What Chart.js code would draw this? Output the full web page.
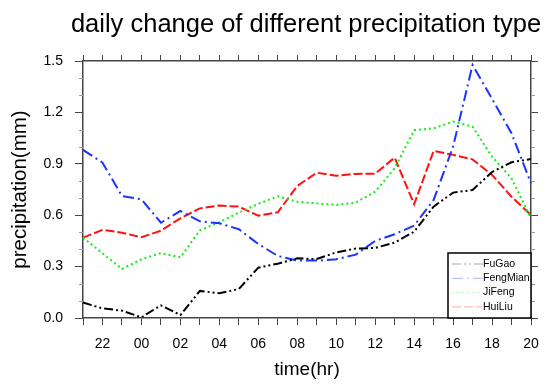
<!DOCTYPE html>
<html>
<head>
<meta charset="utf-8">
<script src="https://cdn.jsdelivr.net/npm/chart.js@4"></script>
<style>
  body { margin: 0; background: #fff; }
  #wrap { width: 550px; height: 391px; position: relative; }
</style>
</head>
<body>
<div id="wrap"><canvas id="graph"></canvas></div>
<script>
// 時刻(横軸)
let hours = ['21','22','23','00','01','02','03','04','05','06','07','08',
             '09','10','11','12','13','14','15','16','17','18','19','20'];

// 各タイプの降水量(mm)
let fuGao = [0.09,0.056,0.043,0.004,0.074,0.017,0.158,0.144,0.169,0.294,0.317,0.348,
             0.344,0.383,0.405,0.409,0.44,0.504,0.65,0.732,0.747,0.852,0.909,0.928];
let fengMian = [0.981,0.907,0.712,0.693,0.556,0.625,0.564,0.553,0.518,0.432,0.362,0.335,
                0.335,0.343,0.37,0.45,0.489,0.539,0.689,1.0,1.477,1.28,1.078,0.786];
let jiFeng = [0.469,0.378,0.286,0.343,0.379,0.354,0.512,0.559,0.615,0.666,0.71,0.679,
              0.669,0.66,0.673,0.737,0.874,1.097,1.107,1.146,1.117,0.942,0.815,0.582];
let huiLiu = [0.469,0.514,0.498,0.471,0.51,0.582,0.64,0.656,0.65,0.597,0.617,0.771,
              0.848,0.831,0.841,0.842,0.936,0.664,0.975,0.952,0.926,0.835,0.708,0.601];

// 縦軸の目盛
let yMin = 0;
let yMax = 1.5;
let yStep = 0.3;
let yMinorStep = 0.1;

let titleText = 'daily change of different precipitation type';

const FONT = '"Liberation Sans", Arial, Helvetica, sans-serif';
const AXIS_COLOR = '#444';

function makeLine(label, data, color, dash) {
  return {
    label: label,
    data: data,
    borderColor: color,
    backgroundColor: color,
    borderWidth: 2,
    borderDash: dash,
    pointRadius: 0,
    tension: 0,
    fill: false
  };
}

// タイトル(グラフ枠の中央に合わせる)
const topTitle = {
  id: 'topTitle',
  afterDraw(chart) {
    const ctx = chart.ctx;
    const area = chart.chartArea;
    ctx.save();
    ctx.fillStyle = '#000';
    ctx.font = '25.5px ' + FONT;
    ctx.textAlign = 'center';
    ctx.textBaseline = 'alphabetic';
    ctx.fillText(titleText, (area.left + area.right) / 2 - 1, 32);
    ctx.restore();
  }
};

// 補助目盛(0.1刻み)を左右に描く
const minorTicks = {
  id: 'minorTicks',
  afterDraw(chart) {
    const ctx = chart.ctx;
    const y = chart.scales.y;
    const area = chart.chartArea;
    ctx.save();
    ctx.strokeStyle = '#999';
    ctx.lineWidth = 1;
    let n = Math.round((yMax - yMin) / yMinorStep);
    for (let i = 0; i <= n; i++) {
      if (i % 3 === 0) continue;
      let py = Math.round(y.getPixelForValue(yMin + i * yMinorStep)) + 0.5;
      ctx.beginPath();
      ctx.moveTo(area.left - 4, py);
      ctx.lineTo(area.left, py);
      ctx.moveTo(area.right, py);
      ctx.lineTo(area.right + 4, py);
      ctx.stroke();
    }
    ctx.restore();
  }
};

// 右下の凡例
const boxLegend = {
  id: 'boxLegend',
  afterDraw(chart) {
    const ctx = chart.ctx;
    const area = chart.chartArea;
    const w = 83, h = 65;
    const x0 = area.right - w, y0 = area.bottom - h;
    ctx.save();
    ctx.fillStyle = '#fff';
    ctx.fillRect(x0, y0, w, h);
    chart.data.datasets.forEach(function(ds, i) {
      let ly = y0 + 11 + i * 14.3;
      ctx.globalAlpha = 0.35;
      ctx.strokeStyle = ds.borderColor;
      ctx.lineWidth = 1;
      ctx.setLineDash(ds.borderDash);
      ctx.beginPath();
      ctx.moveTo(x0 + 4, ly);
      ctx.lineTo(x0 + 35, ly);
      ctx.stroke();
      ctx.globalAlpha = 1;
      ctx.setLineDash([]);
      ctx.fillStyle = '#000';
      ctx.font = '10.5px ' + FONT;
      ctx.textBaseline = 'middle';
      ctx.fillText(ds.label, x0 + 35, ly);
    });
    ctx.strokeStyle = '#000';
    ctx.lineWidth = 1.5;
    ctx.strokeRect(x0, y0, w, h);
    ctx.restore();
  }
};

let graph = new Chart(document.getElementById('graph'), {
  type: 'line',
  data: {
    labels: hours,
    datasets: [
      makeLine('FuGao', fuGao, '#000000', [9, 3, 2, 3, 2, 3]),
      makeLine('FengMian', fengMian, '#1a33ff', [11, 4, 2, 4]),
      makeLine('JiFeng', jiFeng, '#11ee11', [2, 3]),
      makeLine('HuiLiu', huiLiu, '#ff1111', [9, 3])
    ]
  },
  options: {
    responsive: true,
    maintainAspectRatio: false,
    animation: false,
    layout: { padding: 0 },
    plugins: {
      legend: { display: false },
      tooltip: { enabled: false },
      title: { display: false }
    },
    scales: {
      x: {
        type: 'category',
        position: 'bottom',
        offset: false,
        afterFit: function(scale) { scale.height = 73; },
        grid: { drawOnChartArea: false, drawTicks: true, tickLength: 7, color: AXIS_COLOR, offset: false },
        border: { display: true, color: AXIS_COLOR, width: 1.5 },
        ticks: {
          autoSkip: false,
          maxRotation: 0,
          padding: 11,
          color: '#000',
          font: { family: FONT, size: 14 },
          callback: function(val, index) {
            let h = hours[index];
            return Number(h) % 2 === 0 ? h : '';
          }
        },
        title: {
          display: true,
          text: 'time(hr)',
          color: '#000',
          font: { family: FONT, size: 19 },
          padding: { top: 10, bottom: 10 }
        }
      },
      x2: {
        type: 'category',
        position: 'top',
        offset: false,
        afterFit: function(scale) { scale.height = 61; },
        grid: { drawOnChartArea: false, drawTicks: true, tickLength: 6, color: AXIS_COLOR, offset: false },
        border: { display: true, color: AXIS_COLOR, width: 1.5 },
        ticks: { display: false, autoSkip: false }
      },
      y: {
        type: 'linear',
        position: 'left',
        min: yMin,
        max: yMax,
        afterFit: function(scale) { scale.width = 83; },
        grid: { drawOnChartArea: false, drawTicks: true, tickLength: 8, color: AXIS_COLOR },
        border: { display: true, color: AXIS_COLOR, width: 1.5 },
        ticks: {
          stepSize: yStep,
          padding: 12,
          color: '#000',
          font: { family: FONT, size: 14 },
          callback: function(val) { return val.toFixed(1); }
        },
        title: {
          display: true,
          text: 'precipitation(mm)',
          color: '#000',
          font: { family: FONT, size: 20.5 },
          padding: { top: 8, bottom: 8 }
        }
      },
      y2: {
        type: 'linear',
        position: 'right',
        min: yMin,
        max: yMax,
        afterFit: function(scale) { scale.width = 19; },
        grid: { drawOnChartArea: false, drawTicks: true, tickLength: 7, color: AXIS_COLOR },
        border: { display: true, color: AXIS_COLOR, width: 1.5 },
        ticks: { display: false, stepSize: yStep }
      }
    }
  },
  plugins: [topTitle, minorTicks, boxLegend]
});
</script>
</body>
</html>
